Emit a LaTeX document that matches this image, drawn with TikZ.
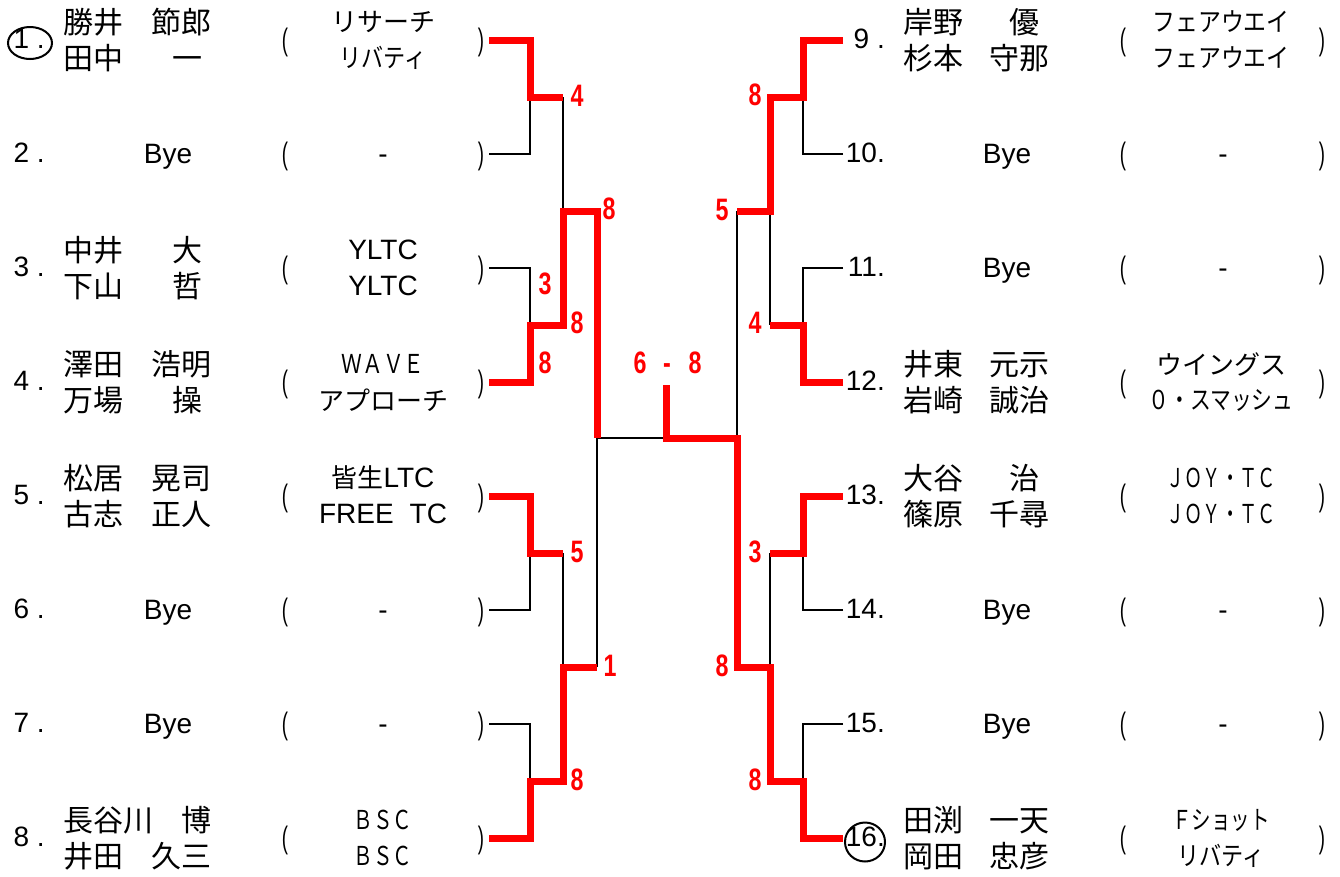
\documentclass[tikz,border=0pt]{standalone}
\usepackage{fontspec}
\usepackage{graphicx}
\usetikzlibrary{shapes.geometric}
\setmainfont{Liberation Sans}
\newfontfamily\latf{Liberation Sans}
\newfontfamily\jpf{Noto Sans CJK JP}
\newcommand\nm[3]{\makebox[#3pt][l]{#1}\makebox[0pt][c]{#2}}
\newcommand\hs[2]{\scalebox{#1}[1]{#2}}
\newcommand\sco[1]{\scalebox{0.75}[1]{#1}}
\begin{document}
\begin{tikzpicture}[x=1pt,y=-1pt,
  lose/.style={draw=black,line width=2.5pt},
  win/.style={draw=red,line width=7pt},
  pname/.style={anchor=west,inner sep=0pt,font=\jpf\fontsize{30}{32}\selectfont},
  team/.style={anchor=center,inner sep=0pt,font=\jpf\fontsize{26}{30}\selectfont},
  lat/.style={inner sep=0pt,font=\latf\fontsize{28}{30}\selectfont},
  pnum/.style={lat,anchor=east},
  hyph/.style={lat,anchor=base},
  par/.style={inner sep=0pt,font=\latf\fontsize{31}{33}\selectfont},
  score/.style={inner sep=0pt,text=red,font=\latf\bfseries\fontsize{31}{33}\selectfont},
  ring/.style={draw,ellipse,line width=2pt,inner sep=0pt}]
\useasboundingbox (0,0) rectangle (1340,876);

% ---------- rows, numbers, parentheses ----------
\foreach \i/\y in {1/40,2/154,3/268,4/382,5/496,6/610,7/724,8/838}{
  \coordinate (L\i) at (489,\y);
  \node[pnum] (num\i) at (45,\y-1) {\i\ .};
  \node[par] (pl\i) at (285,\y+2) {\hs{0.6}{(}};
  \node[par] (pr\i) at (481,\y+2) {\hs{0.6}{)}};
}
\foreach \i/\y in {9/40,10/154,11/268,12/382,13/496,14/610,15/724,16/838}{
  \coordinate (R\i) at (843,\y);
  \node[pnum] (num\i) at (885,\y-1) {\ifnum\i<10 \i\ .\else\i.\fi};
  \node[par] (pl\i) at (1123,\y+2) {\hs{0.6}{(}};
  \node[par] (pr\i) at (1322,\y+2) {\hs{0.6}{)}};
}

% ---------- junction coordinates ----------
\coordinate (LA1) at (530,97);  \coordinate (LB1) at (563,97);
\coordinate (LA2) at (530,325); \coordinate (LB2) at (563,325);
\coordinate (LA3) at (530,553); \coordinate (LB3) at (563,553);
\coordinate (LA4) at (530,781); \coordinate (LB4) at (563,781);
\coordinate (LC1) at (597,211); \coordinate (LC2) at (597,667);
\coordinate (LF) at (597,438);
\coordinate (CF) at (666,438);  \coordinate (CT) at (666,385);
\coordinate (RA1) at (803,97);  \coordinate (RB1) at (770,97);
\coordinate (RA2) at (803,325); \coordinate (RB2) at (770,325);
\coordinate (RA3) at (803,553); \coordinate (RB3) at (770,553);
\coordinate (RA4) at (803,781); \coordinate (RB4) at (770,781);
\coordinate (RC1) at (737,211); \coordinate (RC2) at (737,667);
\coordinate (RF) at (737,438);

% ---------- black (losing) lines ----------
\draw[lose] (L2) -| (LA1);
\draw[lose] (LB1) -- (LB1 |- LC1);
\draw[lose] (L3) -| (LA2);
\draw[lose] (L6) -| (LA3);
\draw[lose] (LB3) -- (LB3 |- LC2);
\draw[lose] (L7) -| (LA4);
\draw[lose] (LF) -- (LC2);
\draw[lose] (LF) -- (CF);
\draw[lose] (R10) -| (RA1);
\draw[lose] (RC1) -- (RF);
\draw[lose] (RB1 |- RC1) -- (RB2);
\draw[lose] (R11) -| (RA2);
\draw[lose] (R14) -| (RA3);
\draw[lose] (RB3) -- (RB3 |- RC2);
\draw[lose] (R15) -| (RA4);

% ---------- red (winning) lines ----------
\draw[win] (L1) -| (LA1) -- (LB1);
\draw[win] (L4) -| (LA2) -- (LB2) |- (LC1) -- (LF);
\draw[win] (L5) -| (LA3) -- (LB3);
\draw[win] (L8) -| (LA4) -- (LB4) |- (LC2);
\draw[win] (R9) -| (RA1) -- (RB1) |- (RC1);
\draw[win] (R12) -| (RA2) -- (RB2);
\draw[win] (R13) -| (RA3) -- (RB3);
\draw[win] (CT) -- (CF) -- (RF) -- (RC2) -| (RB4) -- (RA4) |- (R16);

% ---------- scores ----------
\node[score] (s1) at (577,96) {\sco{4}};
\node[score] (s2) at (609,209) {\sco{8}};
\node[score] (s3) at (545,284) {\sco{3}};
\node[score] (s4) at (577,323) {\sco{8}};
\node[score] (s5) at (545,363) {\sco{8}};
\node[score] (s6) at (577,552) {\sco{5}};
\node[score] (s7) at (610,666) {\sco{1}};
\node[score] (s8) at (577,780) {\sco{8}};
\node[score] (f1) at (640,363) {\sco{6}};
\node[score,anchor=base] (f2) at (667,373) {\sco{-}};
\node[score] (f3) at (695,363) {\sco{8}};
\node[score] (s9) at (755,95) {\sco{8}};
\node[score] (s10) at (722,210) {\sco{5}};
\node[score] (s11) at (755,323) {\sco{4}};
\node[score] (s12) at (755,552) {\sco{3}};
\node[score] (s13) at (722,666) {\sco{8}};
\node[score] (s14) at (755,780) {\sco{8}};

% ---------- left entries ----------
\node[pname] (n1a) at (63,22) {\nm{勝井}{節郎}{118}};
\node[pname] (n1b) at (63,58) {\nm{田中}{一}{124}};
\node[team] (t1a) at (383,22) {リサーチ};
\node[team] (t1b) at (383,58) {\hs{0.85}{リバティ}};

\node[lat,anchor=base] (b2) at (168,163) {Bye};
\node[hyph] (d2) at (383,163) {-};

\node[pname] (n3a) at (63,250) {\nm{中井}{大}{124}};
\node[pname] (n3b) at (63,286) {\nm{下山}{哲}{124}};
\node[lat] (t3a) at (383,250) {YLTC};
\node[lat] (t3b) at (383,286) {YLTC};

\node[pname] (n4a) at (63,364) {\nm{澤田}{浩明}{118}};
\node[pname] (n4b) at (63,400) {\nm{万場}{操}{124}};
\node[team] (t4a) at (383,364) {\hs{0.8}{ＷＡＶＥ}};
\node[team] (t4b) at (383,400) {アプローチ};

\node[pname] (n5a) at (63,478) {\nm{松居}{晃司}{118}};
\node[pname] (n5b) at (63,514) {\nm{古志}{正人}{118}};
\node[team] (t5a) at (383,478) {皆生{\latf\fontsize{28}{30}\selectfont LTC}};
\node[lat] (t5b) at (383,514) {FREE\hspace{16pt}TC};

\node[lat,anchor=base] (b6) at (168,619) {Bye};
\node[hyph] (d6) at (383,619) {-};
\node[lat,anchor=base] (b7) at (168,733) {Bye};
\node[hyph] (d7) at (383,733) {-};

\node[pname] (n8a) at (63,820) {\nm{長谷川}{博}{133}};
\node[pname] (n8b) at (63,856) {\nm{井田}{久三}{118}};
\node[team] (t8a) at (383,820) {\hs{0.75}{ＢＳＣ}};
\node[team] (t8b) at (383,856) {\hs{0.75}{ＢＳＣ}};

% ---------- right entries ----------
\node[pname] (n9a) at (903,22) {\nm{岸野}{優}{121}};
\node[pname] (n9b) at (903,58) {\nm{杉本}{守那}{116}};
\node[team] (t9a) at (1221,22) {\hs{0.88}{フェアウエイ}};
\node[team] (t9b) at (1221,58) {\hs{0.88}{フェアウエイ}};

\node[lat,anchor=base] (b10) at (1007,163) {Bye};
\node[hyph] (d10) at (1223,163) {-};
\node[lat,anchor=base] (b11) at (1007,277) {Bye};
\node[hyph] (d11) at (1223,277) {-};

\node[pname] (n12a) at (903,364) {\nm{井東}{元示}{116}};
\node[pname] (n12b) at (903,400) {\nm{岩崎}{誠治}{116}};
\node[team] (t12a) at (1221,364) {ウイングス};
\node[team] (t12b) at (1221,400) {\hs{0.8}{０・スマッシュ}};

\node[pname] (n13a) at (903,478) {\nm{大谷}{治}{121}};
\node[pname] (n13b) at (903,514) {\nm{篠原}{千尋}{116}};
\node[team] (t13a) at (1221,478) {\hs{0.7}{ＪＯＹ・ＴＣ}};
\node[team] (t13b) at (1221,514) {\hs{0.7}{ＪＯＹ・ＴＣ}};

\node[lat,anchor=base] (b14) at (1007,619) {Bye};
\node[hyph] (d14) at (1223,619) {-};
\node[lat,anchor=base] (b15) at (1007,733) {Bye};
\node[hyph] (d15) at (1223,733) {-};

\node[pname] (n16a) at (903,820) {\nm{田渕}{一天}{116}};
\node[pname] (n16b) at (903,856) {\nm{岡田}{忠彦}{116}};
\node[team] (t16a) at (1221,820) {\hs{0.75}{Ｆショット}};
\node[team] (t16b) at (1221,856) {\hs{0.85}{リバティ}};

% ---------- seed rings ----------
\node[ring,minimum width=44pt,minimum height=32pt] (ring1) at (30,43) {};
\node[ring,minimum width=40pt,minimum height=39pt] (ring16) at (865,842) {};
\end{tikzpicture}
\end{document}
